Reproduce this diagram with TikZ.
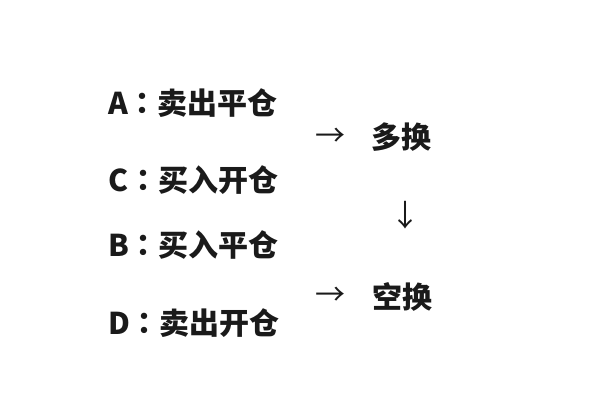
\documentclass[tikz,border=0pt]{standalone}
\usepackage{fontspec}
\newfontfamily\cjk{Noto Sans CJK SC}
\newfontfamily\cjktc{Noto Sans CJK TC}
\newcommand{\sep}{{\cjktc\bfseries ：}}
\usepackage{tikz}
\usetikzlibrary{positioning}
\definecolor{ink}{HTML}{1A1A1A}
\tikzset{
  every node/.style={inner sep=0pt,outer sep=0pt,text=ink,font=\cjk\bfseries\fontsize{30bp}{32bp}\selectfont},
  opt/.style={anchor=west},
  swap/.style={anchor=center},
  arr/.style={anchor=center,font=\cjk\fontsize{30bp}{32bp}\selectfont}
}

\begin{document}
\begin{tikzpicture}[x=1bp,y=1bp]
\useasboundingbox[fill=white] (0,0) rectangle (600,400);
\node[opt] (a) at (108,297) {A\sep 卖出平仓};
\node[opt] (c) at (108,220) {C\sep 买入开仓};
\node[opt] (b) at (108,155) {B\sep 买入平仓};
\node[opt] (d) at (108,77) {D\sep 卖出开仓};
\node[arr] (r1) at (330,263) {→};
\node[swap] (long) at (401,263) {多换};
\node[arr] (dn) at (405,185) {↓};
\node[arr] (r2) at (330,104) {→};
\node[swap] (short) at (402,103) {空换};
\end{tikzpicture}
\end{document}
